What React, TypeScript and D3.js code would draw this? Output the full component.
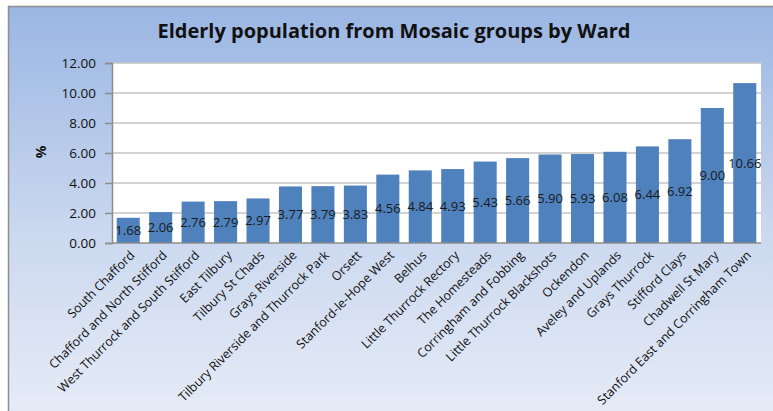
import React, { useEffect, useRef } from 'react';
import * as d3 from 'd3';

const wards = [
  'South Chafford',
  'Chafford and North Stifford',
  'West Thurrock and South Stifford',
  'East Tilbury',
  'Tilbury St Chads',
  'Grays Riverside',
  'Tilbury Riverside and Thurrock Park',
  'Orsett',
  'Stanford-le-Hope West',
  'Belhus',
  'Little Thurrock Rectory',
  'The Homesteads',
  'Corringham and Fobbing',
  'Little Thurrock Blackshots',
  'Ockendon',
  'Aveley and Uplands',
  'Grays Thurrock',
  'Stifford Clays',
  'Chadwell St Mary',
  'Stanford East and Corringham Town',
];

const percents = [
  1.68, 2.06, 2.76, 2.79, 2.97, 3.77, 3.79, 3.83, 4.56, 4.84,
  4.93, 5.43, 5.66, 5.9, 5.93, 6.08, 6.44, 6.92, 9.0, 10.66,
];

const yTicks = [0, 2, 4, 6, 8, 10, 12];

const App: React.FC = () => {
  const svgRef = useRef<SVGSVGElement>(null);

  useEffect(() => {
    if (!svgRef.current) return;
    const svg = d3.select(svgRef.current);
    svg.selectAll('*').remove();

    const width = 773;
    const height = 411;
    const plot = { left: 112, right: 761, top: 63, bottom: 243 };
    const font = "'Open Sans', 'DejaVu Sans', sans-serif";

    // background gradient
    const defs = svg.append('defs');
    const grad = defs
      .append('linearGradient')
      .attr('id', 'bg')
      .attr('x1', 0)
      .attr('y1', 0)
      .attr('x2', 0)
      .attr('y2', 1);
    grad.append('stop').attr('offset', '0%').attr('stop-color', '#9AB6E3');
    grad.append('stop').attr('offset', '55%').attr('stop-color', '#CBD8EF');
    grad.append('stop').attr('offset', '100%').attr('stop-color', '#E6ECF7');

    svg.append('rect').attr('width', width).attr('height', height).attr('fill', '#fff');
    svg
      .append('rect')
      .attr('x', 8.5)
      .attr('y', 6.5)
      .attr('width', width + 10)
      .attr('height', height)
      .attr('fill', 'url(#bg)')
      .attr('stroke', '#8e8e8e')
      .attr('stroke-width', 1.5);

    // title
    svg
      .append('text')
      .attr('x', 394)
      .attr('y', 38)
      .attr('text-anchor', 'middle')
      .style('font-family', font)
      .style('font-size', '20px')
      .style('font-weight', 'bold')
      .style('fill', '#111')
      .text('Elderly population from Mosaic groups by Ward');

    const x = d3
      .scaleBand<string>()
      .domain(wards)
      .range([plot.left, plot.right])
      .paddingInner(0.29)
      .paddingOuter(0.145);

    const y = d3.scaleLinear().domain([0, 12]).range([plot.bottom, plot.top]);

    // plot area
    svg
      .append('rect')
      .attr('x', plot.left)
      .attr('y', plot.top)
      .attr('width', plot.right - plot.left)
      .attr('height', plot.bottom - plot.top)
      .attr('fill', '#fff');

    // gridlines
    svg
      .append('g')
      .selectAll('line')
      .data(yTicks.filter(t => t > 0))
      .enter()
      .append('line')
      .attr('x1', plot.left)
      .attr('x2', plot.right)
      .attr('y1', d => y(d))
      .attr('y2', d => y(d))
      .attr('stroke', '#C4C4C4')
      .attr('stroke-width', 1.5);

    // y axis
    const yAxis = svg
      .append('g')
      .attr('transform', `translate(${plot.left},0)`)
      .call(
        d3
          .axisLeft(y)
          .tickValues(yTicks)
          .tickSize(7)
          .tickPadding(9)
          .tickFormat(d => d3.format('.2f')(d as number))
      );
    yAxis.select('.domain').attr('stroke', '#8c8c8c').attr('stroke-width', 1.5);
    yAxis.selectAll('line').attr('stroke', '#8c8c8c').attr('stroke-width', 1.5);
    yAxis
      .selectAll('text')
      .style('font-family', font)
      .style('font-size', '13.5px')
      .style('fill', '#111');

    // bars
    svg
      .append('g')
      .selectAll('rect')
      .data(percents)
      .enter()
      .append('rect')
      .attr('x', (d, i) => x(wards[i]) ?? 0)
      .attr('y', d => y(d))
      .attr('width', x.bandwidth())
      .attr('height', d => y(0) - y(d))
      .attr('fill', '#4F81BD');

    // x axis line
    svg
      .append('line')
      .attr('x1', plot.left)
      .attr('x2', plot.right)
      .attr('y1', y(0))
      .attr('y2', y(0))
      .attr('stroke', '#8c8c8c')
      .attr('stroke-width', 1.5);

    // value labels
    svg
      .append('g')
      .selectAll('text')
      .data(percents)
      .enter()
      .append('text')
      .attr('x', (d, i) => (x(wards[i]) ?? 0) + x.bandwidth() / 2)
      .attr('y', d => (y(d) + y(0)) / 2)
      .attr('dy', '0.35em')
      .attr('text-anchor', 'middle')
      .style('font-family', font)
      .style('font-size', '13px')
      .style('fill', '#1a1a1a')
      .text(d => d3.format('.2f')(d));

    // category labels
    svg
      .append('g')
      .selectAll('text')
      .data(wards)
      .enter()
      .append('text')
      .attr('transform', d => {
        const cx = (x(d) ?? 0) + x.bandwidth() / 2 + 4;
        return `translate(${cx},${y(0) + 10}) rotate(-45)`;
      })
      .attr('text-anchor', 'end')
      .attr('dy', '0.35em')
      .style('font-family', font)
      .style('font-size', '12.5px')
      .style('fill', '#111')
      .text(d => d);

    // y axis title
    svg
      .append('text')
      .attr('transform', 'translate(41,152) rotate(-90)')
      .attr('text-anchor', 'middle')
      .attr('dy', '0.35em')
      .style('font-family', font)
      .style('font-size', '14px')
      .style('font-weight', 'bold')
      .style('fill', '#111')
      .text('%');
  }, []);

  return (
    <svg
      ref={svgRef}
      width={773}
      height={411}
      style={{ position: 'absolute', left: 0, top: 0 }}
    />
  );
};

export default App;
